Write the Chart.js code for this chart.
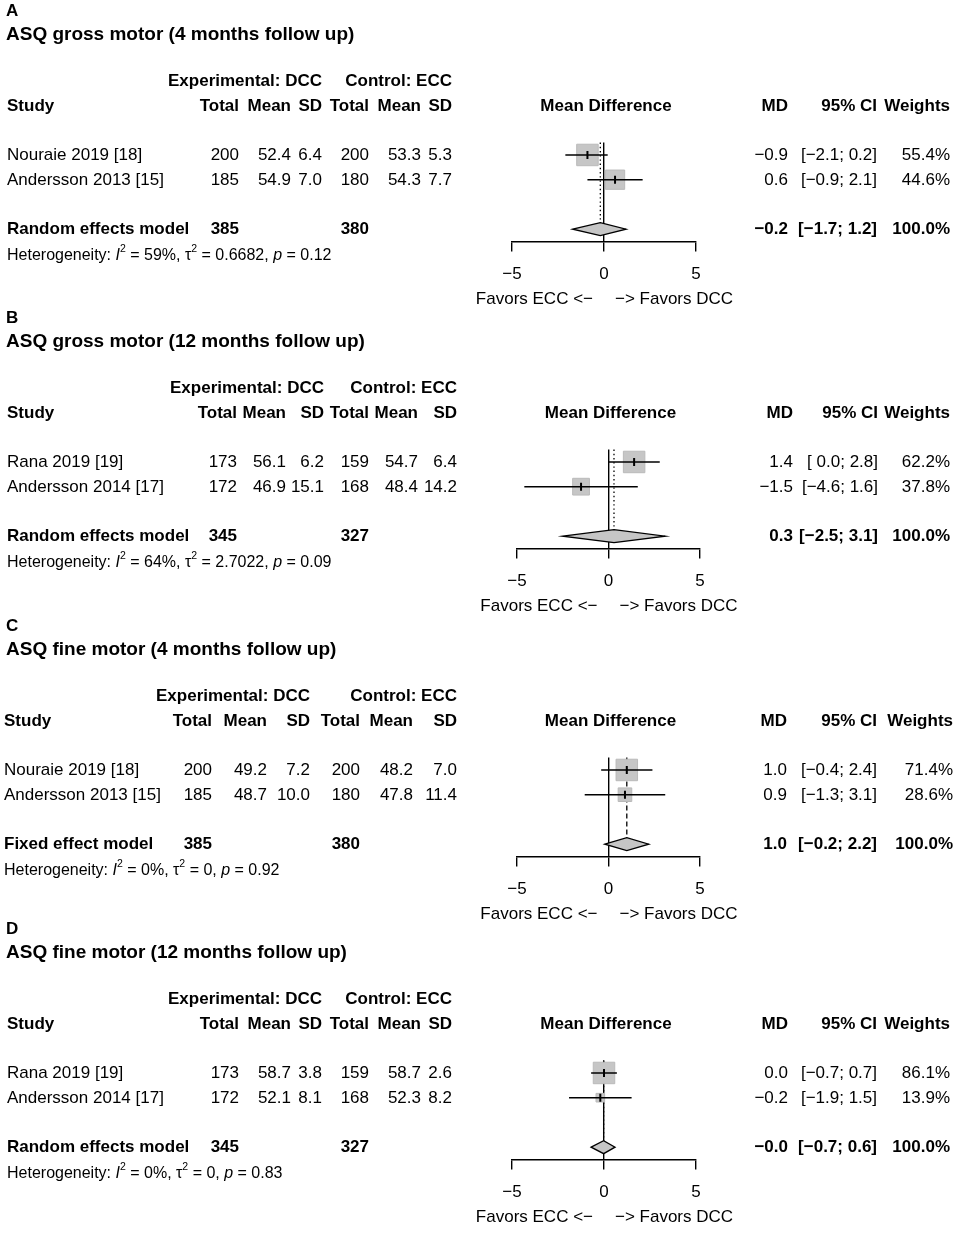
<!DOCTYPE html>
<html>
<head>
<meta charset="utf-8">
<title>ASQ motor outcomes - forest plots</title>
<style>
body { margin: 0; background: #fff; }
#wrap { position: relative; width: 957px; height: 1233px; }
#wrap canvas { position: absolute; left: 0; }
</style>
<script src="https://cdn.jsdelivr.net/npm/chart.js@4"></script>
<script>
// values, one entry per panel (A-D)
const panelLetters = ['A', 'B', 'C', 'D'];
const panelTitles = [
	'ASQ gross motor (4 months follow up)',
	'ASQ gross motor (12 months follow up)',
	'ASQ fine motor (4 months follow up)',
	'ASQ fine motor (12 months follow up)'
];
const studies = [
	['Nouraie 2019 [18]', 'Andersson 2013 [15]'],
	['Rana 2019 [19]', 'Andersson 2014 [17]'],
	['Nouraie 2019 [18]', 'Andersson 2013 [15]'],
	['Rana 2019 [19]', 'Andersson 2014 [17]']
];
const expTotal = [[200, 185], [173, 172], [200, 185], [173, 172]];
const expMean = [[52.4, 54.9], [56.1, 46.9], [49.2, 48.7], [58.7, 52.1]];
const expSD = [[6.4, 7.0], [6.2, 15.1], [7.2, 10.0], [3.8, 8.1]];
const ctlTotal = [[200, 180], [159, 168], [200, 180], [159, 168]];
const ctlMean = [[53.3, 54.3], [54.7, 48.4], [48.2, 47.8], [58.7, 52.3]];
const ctlSD = [[5.3, 7.7], [6.4, 14.2], [7.0, 11.4], [2.6, 8.2]];
const md = [[-0.9, 0.6], [1.4, -1.5], [1.0, 0.9], [0.0, -0.2]];
const ciLow = [[-2.1, -0.9], [0.0, -4.6], [-0.4, -1.3], [-0.7, -1.9]];
const ciHigh = [[0.2, 2.1], [2.8, 1.6], [2.4, 3.1], [0.7, 1.5]];
const weights = [[55.4, 44.6], [62.2, 37.8], [71.4, 28.6], [86.1, 13.9]];
const modelNames = ['Random effects model', 'Random effects model', 'Fixed effect model', 'Random effects model'];
const modelFixed = [false, false, true, false];
const modelMD = [-0.2, 0.3, 1.0, -0.02];
const modelLow = [-1.7, -2.5, -0.2, -0.7];
const modelHigh = [1.2, 3.1, 2.2, 0.6];
const hetI2 = [59, 64, 0, 0];
const hetTau2 = [0.6682, 2.7022, 0, 0];
const hetP = [0.12, 0.09, 0.92, 0.83];
const xTicks = [-5, 0, 5];

// layout (pixels), not data
const panelTop = [0, 307, 615, 918];
const colA = { title: 6, study: 7, tot: 239, mean: 291, sd: 322, tot2: 369, mean2: 421, sd2: 452, md: 788, ci: 877, w: 950, axL: 512, axR: 696 };
const cols = [
	colA,
	{ title: 6, study: 7, tot: 237, mean: 286, sd: 324, tot2: 369, mean2: 418, sd2: 457, md: 793, ci: 878, w: 950, axL: 517, axR: 700 },
	{ title: 6, study: 4, tot: 212, mean: 267, sd: 310, tot2: 360, mean2: 413, sd2: 457, md: 787, ci: 877, w: 953, axL: 517, axR: 700 },
	colA
];
const rowStudy = [1, 2], rowModel = 4, rowHet = 5, rowHead = -1, rowGroup = -2;

const FAM = '"Liberation Sans", Arial, Helvetica, sans-serif';
const F = {
	n: '17px ' + FAM,
	b: 'bold 17px ' + FAM,
	t: 'bold 19px ' + FAM,
	h: '16px ' + FAM,
	hi: 'italic 16px ' + FAM,
	sup: '10.5px ' + FAM
};
const GREY = '#c6c6c6';

function fmt(v)
{
	return v.toFixed(1).replace('-', '\u2212');
}

function ciText(lo, hi, padLo)
{
	let s = fmt(lo);
	if (padLo && lo >= 0) s = ' ' + s;
	return '[' + s + '; ' + fmt(hi) + ']';
}

const forest = {
	id: 'forest',
	beforeDatasetsDraw(chart) {
		// line through the pooled estimate: dotted (random) or dashed (fixed)
		const p = chart.options.plugins.forest.panel;
		const {ctx, scales: {x, y}} = chart;
		const xp = x.getPixelForValue(modelMD[p]);
		ctx.save();
		ctx.strokeStyle = '#000';
		ctx.lineWidth = 1.3;
		ctx.setLineDash(modelFixed[p] ? [5, 3] : [1.4, 2.8]);
		ctx.beginPath();
		ctx.moveTo(xp, chart.chartArea.top);
		ctx.lineTo(xp, y.getPixelForValue(rowModel) - 6);
		ctx.stroke();
		ctx.restore();
	},
	afterDatasetsDraw(chart) {
		// pooled diamond
		const p = chart.options.plugins.forest.panel;
		const {ctx, scales: {x, y}} = chart;
		const yc = y.getPixelForValue(rowModel);
		ctx.save();
		ctx.beginPath();
		ctx.moveTo(x.getPixelForValue(modelLow[p]), yc);
		ctx.lineTo(x.getPixelForValue(modelMD[p]), yc - 6.5);
		ctx.lineTo(x.getPixelForValue(modelHigh[p]), yc);
		ctx.lineTo(x.getPixelForValue(modelMD[p]), yc + 6.5);
		ctx.closePath();
		ctx.fillStyle = GREY;
		ctx.fill();
		ctx.strokeStyle = '#000';
		ctx.lineWidth = 1.3;
		ctx.stroke();
		ctx.restore();
	},
	afterDraw(chart) {
		const p = chart.options.plugins.forest.panel;
		const c = cols[p];
		const {ctx, scales: {x, y}} = chart;
		const yr = r => y.getPixelForValue(r) + 0.5;
		const put = (font, s, px, py, align) => {
			ctx.font = font;
			ctx.textAlign = align;
			ctx.fillText(s, px, py);
		};
		ctx.save();
		ctx.fillStyle = '#000';
		ctx.textBaseline = 'middle';

		put(F.b, panelLetters[p], c.title, 11, 'left');
		put(F.t, panelTitles[p], c.title, 35, 'left');

		put(F.b, 'Experimental: DCC', c.sd, yr(rowGroup), 'right');
		put(F.b, 'Control: ECC', c.sd2, yr(rowGroup), 'right');
		put(F.b, 'Study', c.study, yr(rowHead), 'left');
		put(F.b, 'Total', c.tot, yr(rowHead), 'right');
		put(F.b, 'Mean', c.mean, yr(rowHead), 'right');
		put(F.b, 'SD', c.sd, yr(rowHead), 'right');
		put(F.b, 'Total', c.tot2, yr(rowHead), 'right');
		put(F.b, 'Mean', c.mean2, yr(rowHead), 'right');
		put(F.b, 'SD', c.sd2, yr(rowHead), 'right');
		put(F.b, 'Mean Difference', x.getPixelForValue(0) + 2, yr(rowHead), 'center');
		put(F.b, 'MD', c.md, yr(rowHead), 'right');
		put(F.b, '95% CI', c.ci, yr(rowHead), 'right');
		put(F.b, 'Weights', c.w, yr(rowHead), 'right');

		const padLo = ciLow[p].concat([modelLow[p]]).some(v => v < 0);
		studies[p].forEach((name, i) => {
			const py = yr(rowStudy[i]);
			put(F.n, name, c.study, py, 'left');
			put(F.n, String(expTotal[p][i]), c.tot, py, 'right');
			put(F.n, expMean[p][i].toFixed(1), c.mean, py, 'right');
			put(F.n, expSD[p][i].toFixed(1), c.sd, py, 'right');
			put(F.n, String(ctlTotal[p][i]), c.tot2, py, 'right');
			put(F.n, ctlMean[p][i].toFixed(1), c.mean2, py, 'right');
			put(F.n, ctlSD[p][i].toFixed(1), c.sd2, py, 'right');
			put(F.n, fmt(md[p][i]), c.md, py, 'right');
			put(F.n, ciText(ciLow[p][i], ciHigh[p][i], padLo), c.ci, py, 'right');
			put(F.n, weights[p][i].toFixed(1) + '%', c.w, py, 'right');
		});

		const ym = yr(rowModel);
		const sumW = weights[p].reduce((a, b) => a + b, 0);
		put(F.b, modelNames[p], c.study, ym, 'left');
		put(F.b, String(expTotal[p].reduce((a, b) => a + b, 0)), c.tot, ym, 'right');
		put(F.b, String(ctlTotal[p].reduce((a, b) => a + b, 0)), c.tot2, ym, 'right');
		put(F.b, fmt(modelMD[p]), c.md, ym, 'right');
		put(F.b, ciText(modelLow[p], modelHigh[p], padLo), c.ci, ym, 'right');
		put(F.b, sumW.toFixed(1) + '%', c.w, ym, 'right');

		// heterogeneity line with italic / superscript pieces
		const hy = yr(rowHet) + 1;
		let hx = c.study;
		const seg = (s, font, dy) => {
			ctx.font = font;
			ctx.textAlign = 'left';
			ctx.fillText(s, hx, hy + (dy || 0));
			hx += ctx.measureText(s).width;
		};
		seg('Heterogeneity: ', F.h);
		seg('I', F.hi);
		seg('2', F.sup, -6);
		seg(' = ' + hetI2[p] + '%, ', F.h);
		seg('\u03c4', F.h);
		seg('2', F.sup, -6);
		seg(' = ' + hetTau2[p] + ', ', F.h);
		seg('p', F.hi);
		seg(' = ' + hetP[p], F.h);

		// direction labels under the axis
		const x0 = x.getPixelForValue(0);
		const fy = chart.chartArea.bottom + 57.5;
		put(F.n, 'Favors ECC <\u2212', x0 - 11, fy, 'right');
		put(F.n, '\u2212> Favors DCC', x0 + 11, fy, 'left');
		ctx.restore();
	}
};

function makePanel(p, wrap)
{
	const c = cols[p];
	const H = p === 3 ? 315 : 308;
	const canvas = document.createElement('canvas');
	canvas.width = 957;
	canvas.height = H;
	canvas.style.top = panelTop[p] + 'px';
	wrap.appendChild(canvas);

	const maxW = Math.max(...weights[p]);
	const pts = md[p].map((m, i) => ({ x: m, y: rowStudy[i] }));
	const datasets = [{
		type: 'scatter',
		data: pts,
		pointStyle: 'rect',
		pointRadius: weights[p].map(w => 21.5 * Math.sqrt(w / maxW) / Math.SQRT2),
		backgroundColor: GREY,
		borderColor: '#bababa',
		borderWidth: 1,
		order: 3
	}];
	md[p].forEach((m, i) => {
		datasets.push({
			type: 'line',
			data: [{ x: ciLow[p][i], y: rowStudy[i] }, { x: ciHigh[p][i], y: rowStudy[i] }],
			borderColor: '#000',
			borderWidth: 1.5,
			pointRadius: 0,
			order: 2
		});
	});
	datasets.push({
		type: 'scatter',
		data: pts,
		pointStyle: 'line',
		rotation: 90,
		pointRadius: 4,
		borderColor: '#000',
		borderWidth: 2,
		order: 1
	});

	new Chart(canvas, {
		type: 'scatter',
		data: { datasets: datasets },
		options: {
			responsive: false,
			animation: false,
			events: [],
			layout: { padding: { left: c.axL, right: 957 - c.axR, top: 142.6, bottom: H - 281.5 } },
			plugins: {
				legend: { display: false },
				tooltip: { enabled: false },
				forest: { panel: p }
			},
			scales: {
				x: {
					type: 'linear',
					position: 'bottom',
					min: -5,
					max: 5,
					afterBuildTicks: s => { s.ticks = xTicks.map(v => ({ value: v })); },
					afterFit: s => { s.height = 40; },
					ticks: {
						font: { size: 17, family: FAM },
						color: '#000',
						padding: 13,
						maxRotation: 0,
						autoSkip: false,
						callback: v => String(v).replace('-', '\u2212')
					},
					grid: {
						drawOnChartArea: true,
						drawTicks: true,
						tickLength: 10,
						lineWidth: 1.4,
						tickWidth: 1.4,
						color: ctx => (ctx.tick && ctx.tick.value === 0) ? '#000' : 'rgba(0,0,0,0)',
						tickColor: '#000'
					},
					border: { display: true, color: '#000', width: 1.4 }
				},
				y: { type: 'linear', display: false, reverse: true, min: 0.5, max: 4.5 }
			}
		},
		plugins: [forest]
	});
}

function load()
{
	const wrap = document.getElementById('wrap');
	for (let p = 0; p < 4; p++) makePanel(p, wrap);
}
</script>
</head>
<body onload="load();">
<div id="wrap"></div>
</body>
</html>
